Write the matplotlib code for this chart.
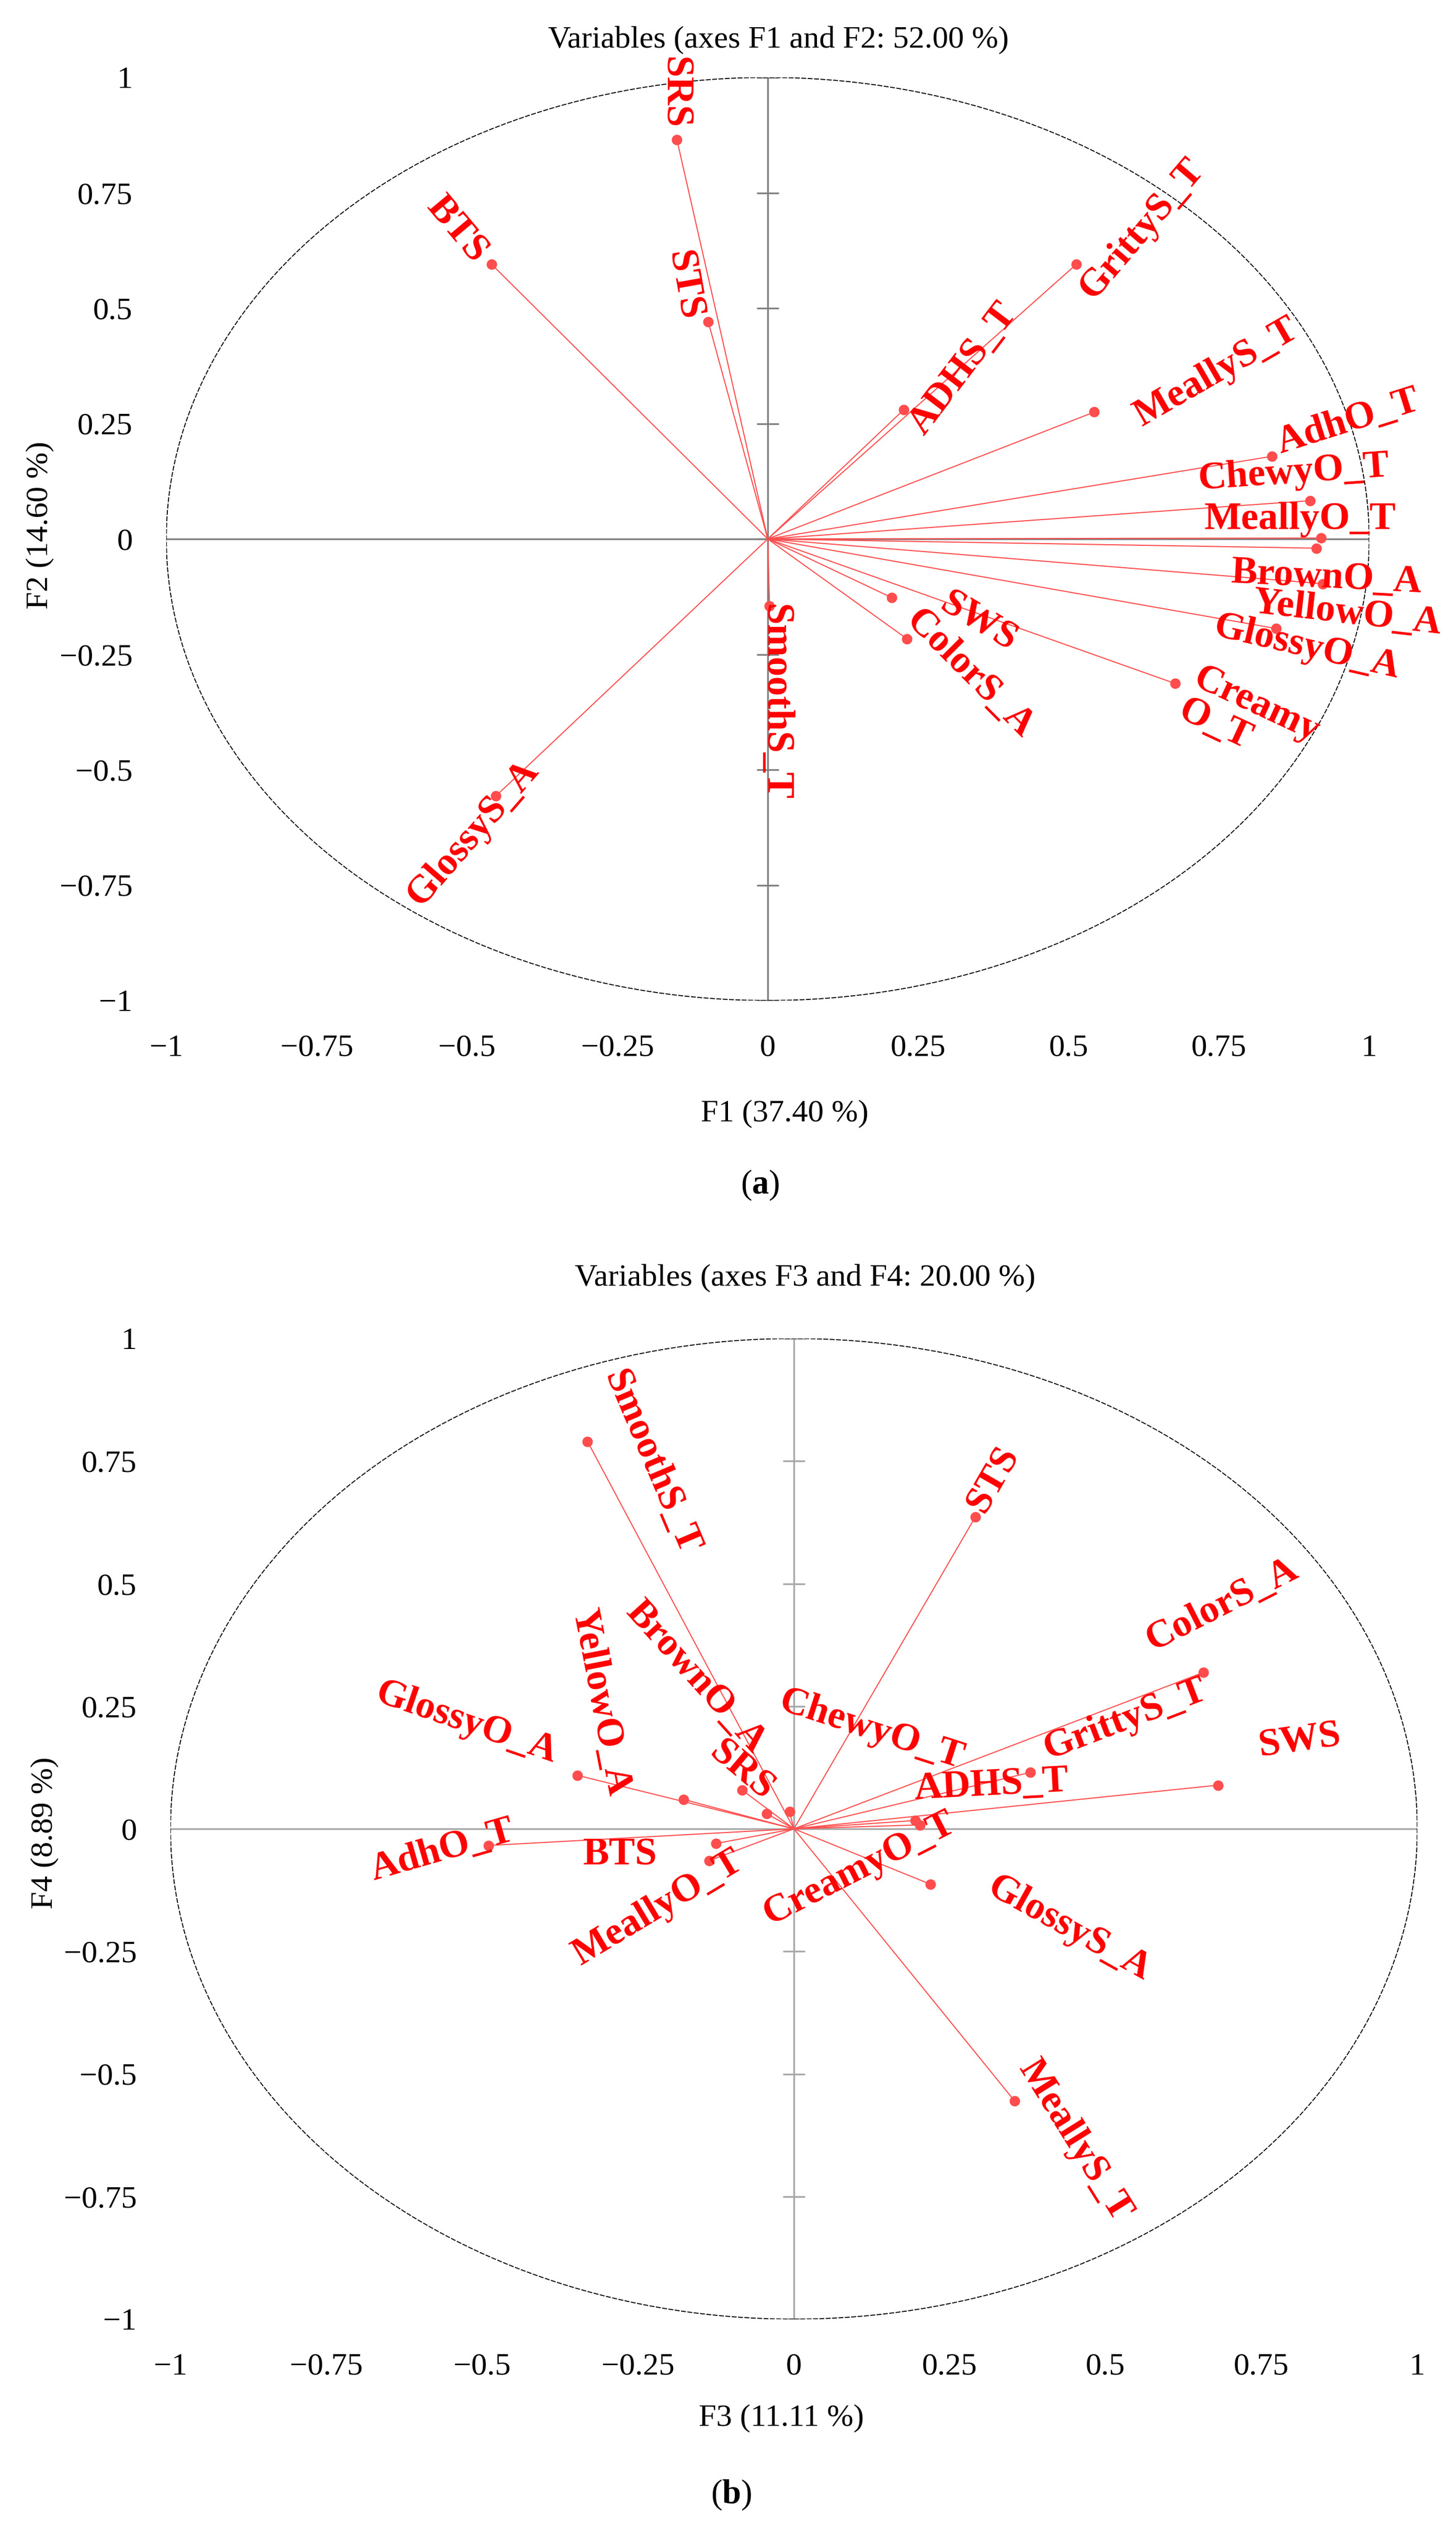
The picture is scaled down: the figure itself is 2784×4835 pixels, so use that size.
import numpy as np
import matplotlib
matplotlib.use('Agg')
import matplotlib.pyplot as plt
from matplotlib.patches import Ellipse

plt.rcParams['font.family'] = ['Liberation Serif', 'DejaVu Serif']
plt.rcParams['mathtext.fontset'] = 'custom'
plt.rcParams['mathtext.bf'] = 'Liberation Serif:bold'
plt.rcParams['mathtext.rm'] = 'Liberation Serif'

# ---- data (correlations of the variables with the factors) ----
names_a = ['SRS', 'BTS', 'STS', 'GrittyS_T', 'ADHS_T', 'MeallyS_T', 'AdhO_T', 'ChewyO_T',
           'MeallyO_T', 'BrownO_A', 'YellowO_A', 'GlossyO_A', 'CreamyO_T', 'SWS',
           'ColorS_A', 'SmoothS_T', 'GlossyS_A']
f1 = [-0.151, -0.459, -0.099, 0.513, 0.226, 0.543, 0.838, 0.902,
      0.920, 0.912, 0.923, 0.845, 0.677, 0.206,
      0.231, 0.003, -0.452]
f2 = [0.865, 0.595, 0.471, 0.595, 0.280, 0.275, 0.179, 0.083,
      0.002, -0.020, -0.097, -0.194, -0.313, -0.127,
      -0.216, -0.145, -0.557]

names_b = ['SmoothS_T', 'STS', 'ColorS_A', 'SWS', 'GrittyS_T', 'ADHS_T', 'CreamyO_T',
           'ChewyO_T', 'BrownO_A', 'SRS', 'YellowO_A', 'GlossyO_A', 'AdhO_T', 'BTS',
           'MeallyO_T', 'GlossyS_A', 'MeallyS_T']
f3 = [-0.331, 0.291, 0.657, 0.680, 0.379, 0.195, 0.202,
      -0.007, -0.044, -0.083, -0.177, -0.347, -0.490, -0.125,
      -0.136, 0.219, 0.354]
f4 = [0.790, 0.636, 0.319, 0.089, 0.115, 0.017, 0.008,
      0.035, 0.031, 0.079, 0.060, 0.109, -0.034, -0.030,
      -0.065, -0.113, -0.555]

ticks = [-1, -0.75, -0.5, -0.25, 0, 0.25, 0.5, 0.75, 1]
tick_labels = ['\u22121', '\u22120.75', '\u22120.5', '\u22120.25', '0', '0.25', '0.5', '0.75', '1']

# ---- label layout: (x, y, rotation) ----
lab_a = {
    'SRS': (-0.155, 0.968, -90), 'BTS': (-0.517, 0.670, -50), 'STS': (-0.139, 0.549, -80),
    'GrittyS_T': (0.622, 0.671, 49.5), 'ADHS_T': (0.325, 0.368, 52.7),
    'MeallyS_T': (0.746, 0.360, 30), 'AdhO_T': (0.965, 0.253, 17.5),
    'ChewyO_T': (0.875, 0.143, 4), 'MeallyO_T': (0.885, 0.042, 0),
    'BrownO_A': (0.929, -0.085, -3), 'YellowO_A': (0.963, -0.162, -6.5),
    'GlossyO_A': (0.896, -0.235, -13), 'CreamyO_T': (0.80, -0.395, -25),
    'SWS': (0.350, -0.180, -31), 'ColorS_A': (0.336, -0.293, -45),
    'SmoothS_T': (0.012, -0.353, -90), 'GlossyS_A': (-0.490, -0.638, 49),
}
lab_b = {
    'SmoothS_T': (-0.229, 0.747, -67), 'YellowO_A': (-0.311, 0.258, -79),
    'BrownO_A': (-0.157, 0.309, -48), 'SRS': (-0.084, 0.118, -40),
    'GlossyO_A': (-0.525, 0.216, -19), 'ChewyO_T': (0.124, 0.201, -18),
    'STS': (0.320, 0.712, 60), 'ColorS_A': (0.687, 0.457, 27),
    'GrittyS_T': (0.532, 0.223, 21), 'SWS': (0.811, 0.179, 8),
    'ADHS_T': (0.317, 0.088, 3), 'CreamyO_T': (0.105, -0.081, 27),
    'MeallyO_T': (-0.218, -0.162, 31), 'BTS': (-0.279, -0.054, 0),
    'GlossyS_A': (0.441, -0.204, -29), 'MeallyS_T': (0.451, -0.636, -58),
    'AdhO_T': (-0.564, -0.045, 16),
}
# the label that is split over two lines in panel (a)
text_a = {'CreamyO_T': 'Creamy\nO_T'}

W, H = 2784, 4835
fig = plt.figure(figsize=(W / 300, H / 300), dpi=300)


def px_axes(l, r, t, b):
    return fig.add_axes([l / W, 1 - b / H, (r - l) / W, (b - t) / H])


def circle_plot(ax, xs, ys, names, labs, texts, axcol, xlab, ylab, title, title_y, xl, yl):
    ax.set_xlim(-1, 1)
    ax.set_ylim(-1, 1)
    for s in ax.spines.values():
        s.set_visible(False)
    ax.set_xticks(ticks, labels=tick_labels)
    ax.set_yticks(ticks, labels=tick_labels)
    ax.tick_params(length=0, pad=15.5, labelsize=14.5)

    # axes through the origin
    ax.plot([-1, 1], [0, 0], color=axcol, lw=0.8, zorder=1)
    ax.plot([0, 0], [-1, 1], color=axcol, lw=0.8, zorder=1)
    ax.plot(np.zeros(len(ticks)), ticks, ls='none', marker='_', ms=10, mew=0.8,
            color=axcol, zorder=1)

    # correlation circle
    ax.add_patch(Ellipse((0, 0), 2, 2, fill=False, ec='black', lw=0.45,
                         ls=(0, (5, 1.5)), zorder=2))

    for x, y, n in zip(xs, ys, names):
        ax.plot([0, x], [0, y], color='#ff4d4d', lw=0.5, zorder=3, clip_on=False)
        ax.plot(x, y, 'o', color='#ff4d4d', ms=4.8, mew=0, zorder=4, clip_on=False)
        lx, ly, rot = labs[n]
        ax.text(lx, ly, texts.get(n, n), color='red', fontsize=18, fontweight='bold',
                ha='center', va='center', rotation=rot, rotation_mode='anchor',
                multialignment='left', linespacing=1.0, zorder=5, clip_on=False)

    ax.set_xlabel(xlab, fontsize=14.5)
    ax.set_ylabel(ylab, fontsize=14.5)
    ax.xaxis.set_label_coords(*xl)
    ax.yaxis.set_label_coords(*yl)
    ax.xaxis.label.set_va('center')
    ax.yaxis.label.set_va('center')
    ax.text(0.509, title_y, title, transform=ax.transAxes, ha='center', va='center',
            fontsize=14.5)


ax_a = px_axes(318, 2618, 148, 1912)
circle_plot(ax_a, f1, f2, names_a, lab_a, text_a, '#808080',
            'F1 (37.40 %)', 'F2 (14.60 %)', 'Variables (axes F1 and F2: 52.00 %)',
            1.040, (0.514, -0.1224), (-0.105, 0.515))

ax_b = px_axes(326, 2710, 2558, 4432)
circle_plot(ax_b, f3, f4, names_b, lab_b, {}, '#a8a8a8',
            'F3 (11.11 %)', 'F4 (8.89 %)', 'Variables (axes F3 and F4: 20.00 %)',
            1.061, (0.490, -0.101), (-0.101, 0.496))

fig.text(1453 / W, 1 - 2265 / H, r'($\mathbf{a}$)', ha='center', va='center', fontsize=15.5)
fig.text(1398 / W, 1 - 4768 / H, r'($\mathbf{b}$)', ha='center', va='center', fontsize=15.5)

fig.savefig('out.png', dpi=300)
